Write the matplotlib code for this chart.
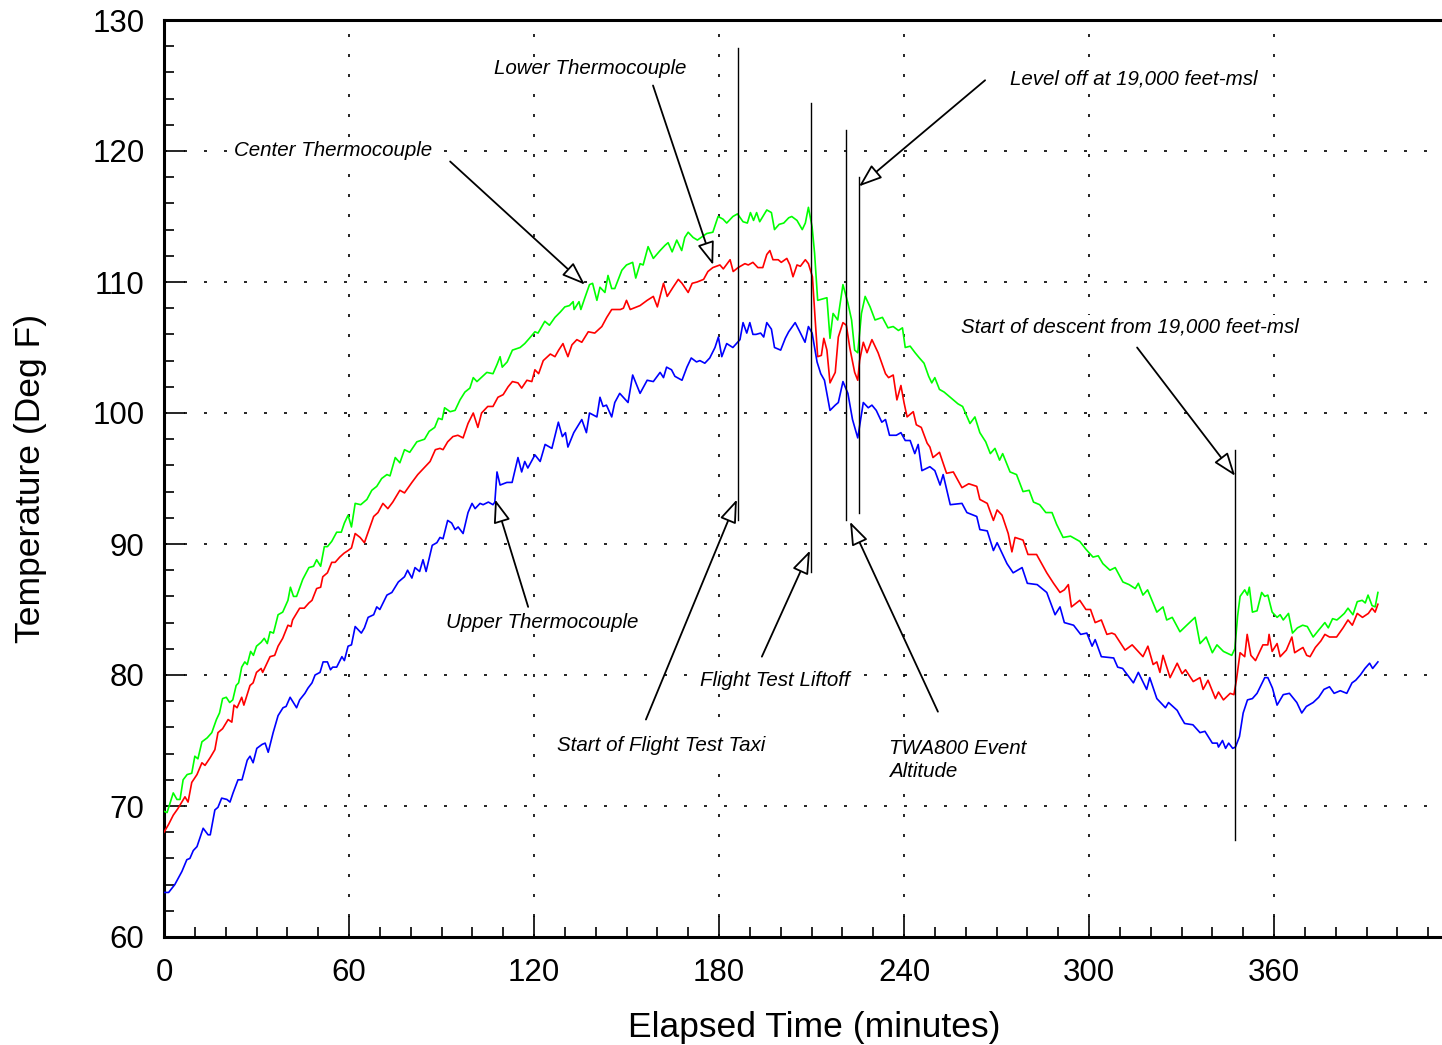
import matplotlib
matplotlib.use("Agg")
import matplotlib.pyplot as plt
from matplotlib.ticker import MultipleLocator, FixedLocator

plt.rcParams['font.family'] = ['Liberation Sans', 'DejaVu Sans']

# ---------------- data (elapsed minutes, deg F) ----------------
center_pts = [(0,69.6),(1,69.5),(3,71.0),(4.2,70.5),(5.2,70.5),(6.2,72.0),(7.5,72.4),(9,72.5),(10,73.8),(11,73.6),
 (12.3,74.9),(14,75.2),(15.5,75.6),(17,76.6),(18,77.1),(19,78.2),(20.2,78.3),(21.3,77.9),(22.3,78.1),(23.4,79.2),
 (24.2,79.4),(25.2,80.6),(26.2,81.0),(27,80.8),(28.1,81.8),(29,81.5),(30,82.2),(31.5,82.5),(32.5,82.8),(33.5,82.4),
 (34.4,83.3),(35.5,83.2),(37,84.6),(38.5,84.8),(40.2,85.7),(41,86.7),(42,86.0),(43,86.0),(45,87.3),(47,88.2),
 (48.5,88.3),(49.5,88.8),(50.8,88.3),(52,89.8),(53,89.8),(54.4,90.2),(56,90.9),(57.5,90.9),(58.5,91.6),(59.7,92.2),
 (60.8,91.3),(62,93.1),(63.8,93.0),(65.8,93.4),(67.4,94.1),(69,94.4),(70.6,95.0),(72.3,95.3),(73.3,95.2),(75,96.6),
 (76.5,96.2),(78,97.2),(79.7,97.0),(82,97.8),(84.5,98.0),(86,98.6),(87.8,98.9),(89,99.6),(90.2,99.5),(91,100.4),
 (92.8,100.1),(94.4,100.2),(96,101.0),(97.6,101.6),(99.2,101.9),(100.3,102.7),(101.5,102.4),(104.7,103.1),(106.7,103.0),(108,103.7),
 (109,104.3),(109.7,103.5),(111.3,103.9),(113,104.8),(115.5,105.0),(117,105.3),(118.5,105.7),(120.3,106.2),(121.3,106.1),(122.5,106.6),
 (123.5,107.0),(125,106.7),(126.8,107.3),(128.5,107.7),(130,108.1),(131.5,108.2),(132.7,108.5),(133,107.9),(134.6,108.5),(135.2,107.9),
 (136.5,108.8),(138,109.8),(139,109.9),(140.4,108.6),(141.4,109.6),(143,109.2),(144,110.5),(145.2,109.5),(146.2,109.5),(148.5,110.9),
 (150,111.3),(152,111.5),(153,110.3),(154.4,111.4),(155.4,111.3),(157,112.7),(158.7,111.8),(160.9,112.4),(162.5,112.8),(163.5,113.0),
 (164.8,112.3),(166.3,113.2),(167.9,112.4),(168.9,113.4),(170,113.8),(171.6,113.4),(173,113.2),(176,113.7),(178,113.8),(179.7,115.0),
 (181.3,114.8),(182.5,114.5),(184.5,115.0),(186,115.2),(187.8,114.6),(189.2,114.5),(190.2,115.3),(191.2,114.7),(192.2,115.3),(193.2,114.6),
 (195.5,115.5),(197,115.3),(198,114.0),(199.5,114.4),(201,114.5),(202.6,114.9),(203.6,115.0),(205.3,114.7),(207,114.0),(208,114.5),
 (209,115.7),(210.2,114.2),(211,112.2),(212,108.6),(213.5,108.7),(215,108.8),(216,105.7),(217,107.6),(218.5,107.1),(220.2,109.8),
 (221.8,108.4),(223,107.1),(224,104.8),(225,104.6),(226.2,107.6),(227.4,108.9),(229,108.1),(230.6,107.1),(233,107.3),(234.8,106.5),
 (236.5,106.6),(238.2,106.3),(239.5,106.5),(240.4,105.0),(242,105.1),(243.6,104.6),(245,104.2),(246.5,103.8),(248,102.8),(249,102.3),
 (250,102.7),(251.5,101.8),(253,101.6),(255,101.2),(257.5,100.7),(259,100.5),(261.4,99.2),(263,99.7),(264.6,98.5),(266.5,97.8),
 (268,96.9),(269.5,97.3),(271,96.4),(272,96.9),(274.4,95.5),(276.5,95.3),(278.6,94.0),(280.6,94.1),(282,93.2),(284,93.0),
 (286,92.4),(288,92.4),(289.5,91.5),(291.6,90.5),(294,90.6),(297,90.2),(299,89.6),(301.3,89.0),(303,89.1),(304.5,88.5),
 (306.8,88.0),(308.5,88.2),(311,87.1),(313,86.9),(315,86.6),(316,87.0),(317.5,86.1),(319,86.5),(322,84.8),(324,85.2),
 (325.2,84.2),(327,84.4),(329.5,83.3),(331.7,83.8),(334.4,84.4),(336,82.4),(338,82.9),(340,81.7),(341.5,82.3),(343.6,81.8),
 (346.3,81.5),(347.3,82.0),(348.2,84.5),(349,86.0),(350.5,86.5),(351.4,86.1),(352,86.7),(353,84.8),(354.5,84.9),(356,86.3),
 (357,86.0),(358,86.1),(359.4,84.8),(361,84.4),(362,84.6),(363,84.2),(364.7,84.7),(366,83.2),(367.6,83.6),(369.3,83.8),
 (370.8,83.7),(372.7,82.9),(374.4,83.4),(376.5,84.0),(377.6,83.6),(379,84.3),(380.4,84.2),(381.4,84.4),(382.8,84.7),(384,85.1),
 (385.6,84.6),(387,85.6),(388.6,85.7),(389.6,85.5),(390.5,86.1),(391.8,85.3),(392.8,85.2),(393.7,86.3)]

lower_pts = [(0,68.0),(1.5,68.6),(3,69.3),(4.5,69.8),(6.8,70.7),(7.8,70.3),(9,71.8),(10.7,72.4),(12.3,73.3),(13.3,73.1),
 (15,73.7),(16.5,74.3),(17.5,75.6),(19,75.9),(20.8,76.6),(22,76.4),(22.7,77.7),(23.7,77.5),(25.2,78.3),(25.9,77.7),
 (27.9,79.2),(28.9,79.4),(30,80.2),(31.5,80.5),(32,80.2),(34.4,81.4),(35.9,81.5),(37,82.2),(38.5,82.8),(40.2,83.8),
 (41.2,83.7),(41.7,84.2),(44,85.1),(45.5,85.1),(47,85.5),(48,85.7),(49.5,86.6),(50.8,86.7),(51.5,87.5),(53,87.8),
 (54.4,88.6),(55.5,88.6),(57,89.0),(58.4,89.3),(59.7,89.5),(60.8,89.7),(62,90.8),(63.6,90.5),(65,90.1),(66.5,91.1),
 (68,92.1),(69.4,92.4),(71,93.1),(72.6,92.7),(74.2,93.2),(76.5,94.1),(78,93.9),(80.4,94.7),(82.3,95.3),(84.7,95.9),
 (86.3,96.3),(88,97.2),(89.5,97.3),(90.5,97.2),(92,97.8),(93.7,98.2),(95.3,98.3),(97,98.1),(98.6,99.2),(100.3,100.0),
 (101.8,98.9),(103,100.0),(105,100.5),(106.7,100.5),(108.3,101.2),(110,101.4),(111.6,102.0),(113,102.4),(114.8,102.3),(116,101.9),
 (117.7,102.5),(119.3,102.4),(120.3,103.3),(121.5,103.0),(123,104.0),(125.3,104.5),(126.8,104.3),(128,104.8),(129.4,105.3),(130,104.9),
 (131,104.3),(132.3,105.2),(133.9,105.6),(135.5,105.4),(137.6,106.2),(139.7,106.1),(142,106.6),(143.6,107.3),(145.2,107.9),(146.9,107.9),
 (148,107.9),(149,108.0),(150,108.6),(151.2,107.9),(154.4,108.2),(156.7,108.6),(158.7,108.9),(160,108.1),(162,109.9),(163.2,108.9),
 (165.1,109.6),(166.8,110.2),(168,109.9),(170,109.2),(171.3,109.9),(172.9,110.0),(175,110.2),(176.4,110.8),(178,111.1),(180.3,111.3),
 (181.4,111.0),(183.6,111.7),(184.6,110.8),(186.2,111.1),(188.4,111.4),(189.5,111.3),(191,111.5),(192.6,111.1),(194.2,111.1),(195.5,112.1),
 (196.5,112.4),(197.5,111.7),(199.2,111.7),(200.2,111.5),(202,111.8),(203,111.3),(204,110.4),(205.3,111.3),(206.4,111.2),(208,111.7),
 (209,111.4),(210.3,110.4),(211.2,107.1),(212,104.3),(213.2,104.4),(214,105.7),(215,104.8),(216,102.3),(217.7,103.1),(218.7,105.8),
 (220.2,106.9),(221.3,106.7),(222.4,105.0),(224,103.1),(225,102.5),(225.6,104.0),(226.8,105.4),(228,104.6),(229.6,105.6),(231.6,104.6),
 (232.8,103.8),(234,103.0),(235,102.7),(236.5,102.9),(237.7,101.0),(239,102.1),(240,100.8),(241,99.7),(243,100.1),(244,99.1),
 (245.6,98.9),(247.5,97.7),(248.4,97.4),(249.4,96.6),(251.5,97.0),(253.8,95.4),(256,95.5),(258.8,94.3),(261,94.6),(263.6,94.4),
 (264.6,93.4),(267,93.1),(269,91.8),(270.2,92.6),(271.8,92.2),(273.8,90.8),(275,89.4),(276,90.5),(278.6,90.3),(280.2,89.2),
 (283,89.2),(286.3,87.8),(288.5,87.0),(290.6,86.3),(292,86.5),(293.3,86.9),(294.3,85.2),(297,85.7),(299,85.0),(300.5,85.0),
 (302,84.0),(304,84.2),(305.8,83.1),(307.4,83.2),(308.4,83.1),(311.7,81.9),(314,82.3),(317.5,81.4),(319.1,82.2),(320.8,80.8),
 (322,81.0),(323,80.2),(324,81.5),(326.3,79.8),(328.6,80.9),(330.2,80.1),(331.3,80.4),(333.8,79.5),(336,79.8),(337,78.9),
 (338.6,79.6),(341,78.2),(342,78.7),(343.6,78.1),(345.8,78.6),(347,78.5),(347.8,79.6),(349,81.7),(350.5,81.4),(351.3,83.1),
 (352.5,81.5),(354,81.1),(356.4,82.3),(358,82.3),(358.4,83.1),(359.4,81.8),(361,82.4),(362,81.4),(364,81.9),(365.8,82.9),
 (366.7,81.7),(368,81.9),(369.4,82.1),(370.6,81.5),(371.7,81.4),(373.4,82.1),(375.2,82.6),(376.5,83.1),(378,82.9),(380.3,82.9),
 (382.4,83.6),(384,84.2),(385.4,83.8),(387,84.7),(388.7,84.4),(390.6,84.7),(391.8,85.1),(392.8,84.8),(393.7,85.4)]

upper_pts = [(0,63.4),(1.5,63.4),(3.5,64.0),(5.8,65.0),(7.4,65.9),(8.4,66.0),(9.5,66.6),(10.7,66.9),(12.7,68.3),(14.3,67.8),
 (15,67.8),(16.5,69.7),(17.5,69.9),(18.7,70.6),(20.4,70.5),(21.4,70.3),(22.4,71.0),(24,72.0),(25.3,72.0),(27,73.5),
 (27.9,73.8),(28.9,73.3),(30.1,74.4),(31.8,74.7),(32.8,74.8),(33.8,74.1),(35.4,75.6),(37,76.9),(38.6,77.5),(39.6,77.6),
 (40.9,78.3),(43,77.5),(44,78.1),(45.7,78.6),(46.7,79.0),(48,79.4),(49,80.0),(50.6,80.2),(51.6,81.0),(53,81.0),
 (54,80.4),(54.7,80.6),(56,80.6),(57.7,81.4),(58.5,81.1),(59.7,82.2),(60.8,82.3),(62,83.7),(64,83.2),(65,83.6),
 (66.2,84.4),(68,84.6),(69,85.2),(70,85.0),(72.3,86.1),(73.9,86.3),(76,87.1),(78,87.5),(79,88.0),(80.4,87.4),
 (81.4,88.2),(82.9,87.9),(84,88.8),(85,87.9),(87,89.9),(88.5,90.1),(89.5,90.5),(90.5,90.4),(92,91.8),(93.3,91.6),
 (94.4,91.1),(95.4,91.3),(97,90.8),(98.6,92.4),(99.9,93.1),(100.9,92.7),(102.5,93.1),(103.5,93.0),(105.2,93.2),(106.7,93.0),
 (107.3,93.2),(108,95.5),(109,94.5),(111.2,94.7),(112.9,94.7),(114.8,96.6),(116,95.5),(117,96.3),(118,95.8),(120.3,96.8),
 (122,96.3),(123.6,97.6),(125.8,97.3),(127.9,99.3),(129.2,98.2),(130.2,98.5),(131,97.4),(132.9,98.5),(135.5,99.5),(137,98.5),
 (138,100.0),(140.4,99.7),(141.4,101.2),(142.4,100.5),(143.5,100.6),(145.2,99.7),(146.2,100.8),(147.8,101.5),(150.5,100.8),(152,102.9),
 (154.4,101.5),(156.7,102.5),(158.7,102.4),(160.9,103.1),(162,102.7),(163,103.5),(164.6,103.3),(165.7,102.8),(168,102.5),(169.6,103.5),
 (171,104.2),(172.7,103.9),(173.8,104.0),(175.4,103.8),(177,104.2),(178.7,105.0),(179.8,105.8),(180.9,104.3),(182.5,105.3),(184.5,105.0),
 (186.8,105.6),(187.8,106.9),(189,106.1),(190,106.9),(191,106.0),(192,106.0),(193.5,106.1),(194.5,105.8),(195.5,106.9),(197,106.4),
 (198,105.0),(200,104.8),(201.5,105.7),(202.6,106.2),(204.7,106.9),(206,106.3),(207.9,105.4),(209,106.6),(210.2,106.1),(211.8,103.9),
 (213,103.0),(214.2,102.5),(216,100.2),(217.7,100.6),(218.7,100.8),(220.2,102.4),(221.8,101.5),(223.3,99.5),(225,98.1),(226.8,100.8),
 (228.4,100.4),(229.6,100.6),(231,100.2),(232.8,99.3),(234,99.5),(235.3,98.3),(237.5,98.3),(239,98.5),(240.4,97.9),(242,97.9),
 (243.5,96.9),(244.6,97.6),(245.8,95.6),(248.4,95.9),(250,95.6),(251.7,94.5),(252.7,95.3),(255,93.0),(258.8,93.1),(260.4,92.4),
 (263.6,92.1),(264.6,91.1),(267,91.0),(269,89.5),(270.2,90.1),(273.4,88.5),(275.4,87.8),(278.3,88.2),(280,87.0),(283.2,86.9),
 (286.3,86.3),(289,84.6),(290.6,85.2),(292,84.0),(295,83.8),(297.3,83.1),(299.3,83.2),(301,82.2),(302,82.7),(304,81.4),
 (308,81.3),(309.3,80.6),(310.9,80.5),(314.4,79.4),(316,80.2),(318.7,78.9),(319.7,79.8),(322,78.2),(324.8,77.5),(325.8,77.9),
 (328.6,77.3),(329.5,76.9),(331,76.3),(333.7,76.2),(336,75.6),(337.6,75.7),(340,74.8),(341.6,74.8),(342,74.5),(343.3,75.0),
 (344.3,74.4),(345.3,74.8),(346.6,74.4),(347.5,74.5),(348.8,75.3),(350,77.1),(351.4,78.1),(353,78.2),(354.5,78.6),(357,79.8),
 (358,79.8),(359.5,79.0),(361,77.7),(363,78.5),(365,78.6),(367.4,77.9),(369,77.1),(370.5,77.6),(372.7,77.9),(374.5,78.3),
 (376.2,78.9),(378,79.1),(379.5,78.6),(381.5,78.8),(383.6,78.6),(385.3,79.4),(386.5,79.6),(388,80.0),(389.5,80.5),(391,80.9),
 (392,80.5),(393.7,81.0)]

# event marker lines: (time, bottom, top)
event_lines = [(186.2, 91.8, 127.9), (209.8, 87.9, 123.7), (221.2, 91.8, 121.6),
               (225.4, 92.4, 118.0), (347.4, 67.4, 97.2)]

# annotations: text, text position, arrow tail, arrow tip
notes = [
    ("Center Thermocouple", (22.7, 120.0), (92.8, 119.2), (136.5, 109.8)),
    ("Lower Thermocouple", (107.0, 126.3), (158.6, 125.0), (178.1, 111.3)),
    ("Level off at 19,000 feet-msl", (274.4, 125.5), (266.3, 125.4), (225.4, 117.3)),
    ("Start of descent from 19,000 feet-msl", (258.5, 106.6), (315.6, 105.0), (347.4, 95.2)),
    ("Upper Thermocouple", (91.5, 84.0), (118.1, 85.2), (107.4, 93.4)),
    ("Start of Flight Test Taxi", (127.5, 74.6), (156.3, 76.6), (185.8, 93.4)),
    ("Flight Test Liftoff", (173.8, 79.6), (193.9, 81.4), (209.5, 89.5)),
    ("TWA800 Event\nAltitude", (235.1, 73.5), (251.0, 77.2), (222.5, 91.7)),
]

x_major = [0, 60, 120, 180, 240, 300, 360]
y_major = [60, 70, 80, 90, 100, 110, 120, 130]

# ---------------- figure ----------------
fig = plt.figure(figsize=(14.42, 10.45), dpi=100)
ax = fig.add_axes([164/1442, 1-937/1045, 1295/1442, 917/1045])
ax.set_xlim(0, 420)
ax.set_ylim(60, 130)

for pts, col in [(center_pts, '#00ff00'), (lower_pts, '#ff0000'), (upper_pts, '#0000ff')]:
    t, v = zip(*pts)
    ax.plot(t, v, color=col, lw=1.2, zorder=3)

for (t, b, top) in event_lines:
    ax.plot([t, t], [b, top], color='black', lw=1.0, zorder=4)

for txt, tp, tail, tip in notes:
    ax.text(tp[0], tp[1], txt, fontsize=14.8, style='italic', ha='left', va='center',
            linespacing=1.3, zorder=5,
            bbox=dict(boxstyle='square,pad=0.1', fc='white', ec='none'))
    ax.annotate('', xy=tip, xytext=tail,
                arrowprops=dict(arrowstyle='-|>,head_length=1.1,head_width=0.4',
                                fc='white', ec='black', lw=1.3,
                                shrinkA=0, shrinkB=0, mutation_scale=13),
                zorder=5)

ax.xaxis.set_major_locator(FixedLocator(x_major))
ax.xaxis.set_minor_locator(MultipleLocator(10))
ax.yaxis.set_major_locator(FixedLocator(y_major))
ax.yaxis.set_minor_locator(MultipleLocator(2))
ax.set_xticklabels([str(v) for v in x_major])
ax.set_yticklabels([str(v) for v in y_major])

ax.tick_params(which='major', direction='in', length=15, width=1.2, labelsize=22.5)
ax.tick_params(which='minor', direction='in', length=7.5, width=1.2)
ax.tick_params(axis='x', which='major', pad=15)
ax.tick_params(axis='y', which='major', pad=14)

ax.grid(True, which='major', color='black', lw=1.2, linestyle=(0, (1.8, 10.2)))

for s in ['left', 'bottom', 'top']:
    ax.spines[s].set_linewidth(2.2)
ax.spines['right'].set_visible(False)

ax.set_xlabel('Elapsed Time (minutes)', fontsize=25.5)
ax.set_ylabel('Temperature (Deg F)', fontsize=25.5)
ax.xaxis.set_label_coords(0.502, -0.081)
ax.yaxis.set_label_coords(-0.0905, 0.5)

fig.savefig('out.png', dpi=100)
